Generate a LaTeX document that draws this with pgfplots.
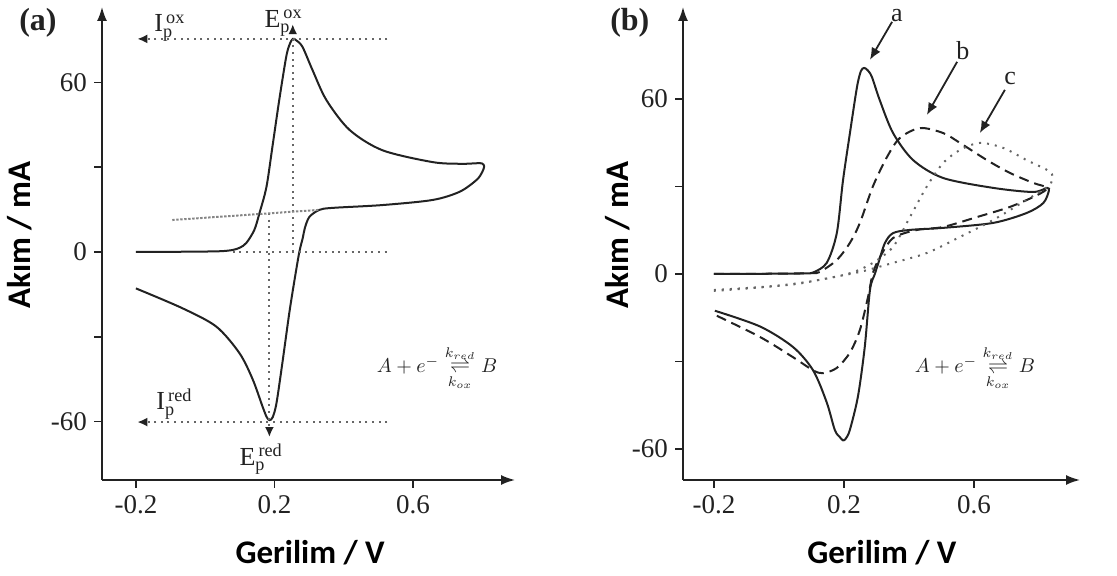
\documentclass[border=0pt]{standalone}
\usepackage{amsmath}
\usepackage{fontspec}
\setmainfont{Liberation Serif}
\newfontfamily\labelfont{Carlito}
\usepackage{pgfplots}
\pgfplotsset{compat=1.18}
\usetikzlibrary{arrows.meta}
\definecolor{ink}{HTML}{222222}
\definecolor{dotc}{HTML}{666666}
\pgfplotsset{
  cv/.style={
    scale only axis, clip=false,
    axis lines=left,
    every outer x axis line/.append style={-{Latex[length=7pt,width=5pt]}},
    every outer y axis line/.append style={-{Latex[length=7pt,width=5pt]}},
    axis line style={line width=0.9pt, color=ink},
    tick align=outside, major tick length=4pt, minor tick length=4pt,
    tick style={line width=0.8pt, color=ink},
    xtick={-0.2,0.2,0.6}, xticklabels={-0.2,0.2,0.6},
    ytick={-60,0,60}, yticklabels={-60,0,60},
    minor ytick={-30,30},
    ticklabel style={font=\fontsize{13.5}{15}\selectfont, text=ink},
    height=236.5pt,
  },
  curve/.style={line width=1pt, color=ink, smooth},
  guide/.style={line width=1pt, color=dotc, dash pattern=on 1pt off 2.3pt},
  garrow/.style={-{Latex[length=5pt,width=4.5pt,color=ink,fill=ink]}},
}
\newcommand{\axlab}{\labelfont\bfseries\fontsize{16.5}{18}\selectfont}
\newcommand{\rxn}{$A+e^{-}\underset{k_{ox}}{\overset{k_{red}}{\rightleftharpoons}}B$}
\begin{document}
\begin{tikzpicture}
\useasboundingbox (0,0) rectangle (558.5pt,288pt);
% ---------------- (a)
\begin{axis}[cv, at={(51pt,48pt)}, anchor=south west, width=206.5pt,
  xmin=-0.298, xmax=0.895, ymin=-80.7, ymax=86.7]
\addplot[curve] coordinates {
(-0.2,0) (-0.1,0.05) (0,0.15) (0.05,0.3) (0.079,0.7) (0.1,1.5) (0.119,3.2)
(0.142,7.8) (0.157,13.8) (0.177,23) (0.194,37) (0.214,53.8) (0.234,69)
(0.244,73.5) (0.253,75.4) (0.262,75) (0.281,72.6) (0.31,64.4) (0.35,53.8)
(0.417,43.2) (0.512,36) (0.657,31.8) (0.74,31.2) (0.785,31.4) (0.800,31.3)
(0.806,30.3) (0.800,28.2) (0.784,25.5) (0.735,21.3) (0.657,18.4) (0.512,16.6)
(0.368,15.6) (0.33,14.9) (0.301,12.4) (0.288,8.5) (0.282,5) (0.272,0)
(0.258,-10) (0.243,-21.6) (0.223,-39.3) (0.206,-53.5) (0.195,-58.5)
(0.186,-59.5) (0.178,-58.5) (0.166,-54.8) (0.137,-45) (0.099,-35.8)
(0.032,-26.4) (-0.066,-19.9) (-0.2,-12.9)};
\addplot[guide, garrow] coordinates {(0.526,75.4) (-0.196,75.4)};
\addplot[guide, garrow] coordinates {(0.526,-60.2) (-0.196,-60.2)};
\addplot[guide] coordinates {(0.08,0) (0.526,0)};
\addplot[guide, garrow] coordinates {(0.253,0) (0.253,80.6)};
\addplot[guide, garrow] coordinates {(0.1855,13.8) (0.1855,-65.5)};
\addplot[line width=1pt, color=dotc!80, dash pattern=on 1.2pt off 0.8pt] coordinates {(-0.095,11.3) (0.33,14.9)};
\node[anchor=base west, font=\fontsize{13}{15}\selectfont, text=ink] at (axis cs:-0.167,77.9) {I$_{\text{p}}^{\,\text{ox}}$};
\node[anchor=base west, font=\fontsize{13}{15}\selectfont, text=ink] at (axis cs:0.151,79.6) {E$_{\text{p}}^{\,\text{ox}}$};
\node[anchor=base west, font=\fontsize{13}{15}\selectfont, text=ink] at (axis cs:-0.161,-55.9) {I$_{\text{p}}^{\,\text{red}}$};
\node[anchor=base west, font=\fontsize{13}{15}\selectfont, text=ink] at (axis cs:0.079,-75.4) {E$_{\text{p}}^{\,\text{red}}$};
\node[text=ink, font=\fontsize{10}{12}\selectfont] at (axis cs:0.67,-41) {\rxn};
\node[font=\fontsize{16}{18}\selectfont\bfseries, text=ink] at (rel axis cs:-0.155,0.966) {(a)};
\node[rotate=90, font=\axlab] at (rel axis cs:-0.2,0.518) {Akım / mA};
\node[font=\axlab] at (rel axis cs:0.504,-0.154) {Gerilim / V};
\end{axis}
% ---------------- (b)
\begin{axis}[cv, at={(341.5pt,48pt)}, anchor=south west, width=198.5pt,
  xmin=-0.295, xmax=0.926, ymin=-70.6, ymax=91.5]
% a (solid)
\addplot[curve] coordinates {
(-0.2,0) (0,0.1) (0.08,0.2) (0.105,0.5) (0.147,3.8) (0.178,14) (0.197,32)
(0.218,48) (0.24,64) (0.252,69.5) (0.262,70.6) (0.273,69.8) (0.286,67.5) (0.31,59.6)
(0.351,48.3) (0.413,39) (0.505,32.9) (0.659,29.5) (0.781,28.1) (0.825,29.5)
(0.830,28.4) (0.813,24.3) (0.762,20.9) (0.659,17.5) (0.505,15.8) (0.403,15.1)
(0.351,14) (0.326,10.6) (0.306,3.8) (0.295,0) (0.28,-5.5) (0.264,-25)
(0.243,-42) (0.218,-53.5) (0.205,-56.5) (0.197,-57) (0.188,-56) (0.172,-53.5) (0.147,-44)
(0.105,-33) (0.043,-25) (-0.058,-18) (-0.197,-12.6)};
% b (dashed)
\addplot[curve, dash pattern=on 5pt off 3pt] coordinates {
(-0.2,0) (0,0.1) (0.1,0.3) (0.126,0.7) (0.178,4.8) (0.218,10.6) (0.249,17.5)
(0.289,30) (0.332,40) (0.372,46.6) (0.434,50) (0.505,48.3) (0.557,44.9)
(0.64,39) (0.711,34.6) (0.782,31.2) (0.825,29.5)
(0.794,27) (0.711,23) (0.609,19.5) (0.505,16.1) (0.425,15.1) (0.351,12.3)
(0.311,5.8) (0.289,0.3) (0.274,-7.9) (0.249,-19.2) (0.218,-27) (0.178,-32.2)
(0.135,-34) (0.105,-33) (0.043,-28.5) (-0.058,-21.6) (-0.197,-14)};
% c (dotted)
\addplot[curve, color=dotc, line width=1pt, dash pattern=on 1pt off 3pt] coordinates {
(-0.2,-5.5) (-0.058,-4.5) (0.043,-3.4) (0.147,-1.6) (0.228,0.6) (0.289,3.8)
(0.351,9.3) (0.403,19.5) (0.455,30) (0.505,38) (0.557,42.5) (0.618,44.9)
(0.69,43.2) (0.762,39) (0.834,35) (0.84,32) (0.825,29.8)
(0.762,25.4) (0.659,18.5) (0.557,12.7) (0.455,7.2) (0.351,3.8) (0.249,0.7)
(0.147,-1.5) (0.05,-3.5) (-0.1,-5) (-0.2,-5.8)};
\addplot[line width=0.9pt, color=ink, -{Latex[length=6pt,width=5pt]}] coordinates {(0.348,86.4) (0.28,73.4)};
\addplot[line width=0.9pt, color=ink, -{Latex[length=6pt,width=5pt]}] coordinates {(0.548,72.7) (0.455,54.5)};
\addplot[line width=0.9pt, color=ink, -{Latex[length=6pt,width=5pt]}] coordinates {(0.695,63.1) (0.618,48.3)};
\node[font=\fontsize{13}{15}\selectfont, text=ink] at (axis cs:0.363,88.6) {a};
\node[font=\fontsize{13}{15}\selectfont, text=ink] at (axis cs:0.566,76.5) {b};
\node[font=\fontsize{13}{15}\selectfont, text=ink] at (axis cs:0.711,67) {c};
\node[text=ink, font=\fontsize{10}{12}\selectfont] at (axis cs:0.603,-32.2) {\rxn};
\node[font=\fontsize{16}{18}\selectfont\bfseries, text=ink] at (rel axis cs:-0.134,0.966) {(b)};
\node[rotate=90, font=\axlab] at (rel axis cs:-0.164,0.518) {Akım / mA};
\node[font=\axlab] at (rel axis cs:0.501,-0.154) {Gerilim / V};
\end{axis}
\end{tikzpicture}
\end{document}
